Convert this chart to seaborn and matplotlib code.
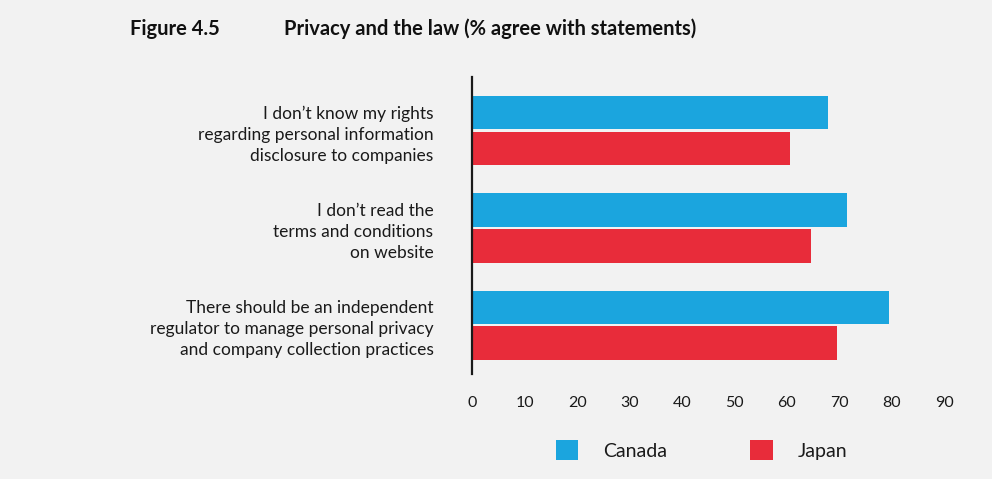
import matplotlib
matplotlib.use("Agg")
import matplotlib.pyplot as plt
import seaborn as sns
import pandas as pd

# Survey statements (as shown on the axis) and percentages agreeing
statements = [
    "I don\u2019t know my rights\nregarding personal information\ndisclosure to companies",
    "I don\u2019t read the\nterms and conditions\non website",
    "There should be an independent\nregulator to manage personal privacy\nand company collection practices",
]
countries = ["Canada", "Japan"]
canada = [67.8, 71.5, 79.5]
japan = [60.5, 64.5, 69.5]
xticks = [0, 10, 20, 30, 40, 50, 60, 70, 80, 90]

colors = {"Canada": "#1ba5de", "Japan": "#e82c3a"}
bg = "#f2f2f2"
ink = "#1a1a1a"

df = pd.DataFrame({
    "statement": statements * 2,
    "country": ["Canada"] * 3 + ["Japan"] * 3,
    "value": canada + japan,
})

sns.set_theme(style="white")
plt.rcParams["font.family"] = ["Lato", "DejaVu Sans"]

fig = plt.figure(figsize=(9.92, 4.79), dpi=100, facecolor=bg)
ax = fig.add_axes([472.3 / 992, 1 - 374 / 479, 472 / 992, 297 / 479])
ax.set_facecolor(bg)

sns.barplot(data=df, y="statement", x="value", hue="country",
            hue_order=countries, palette=colors, orient="h",
            width=0.736, gap=0.06, ax=ax, saturation=1, linewidth=0)

ax.set_xlim(0, 90)
ax.set_ylim(2.50, -0.55)
ax.set_xticks(xticks)
ax.set_xticklabels([str(t) for t in xticks], fontsize=11.5, color=ink)
ax.set_yticks(range(len(statements)))
ax.set_yticklabels(statements, fontsize=12.5, color=ink,
                   linespacing=1.38, ha="right")
ax.tick_params(axis="x", length=0, pad=16)
ax.tick_params(axis="y", length=0, pad=28)
ax.set_xlabel("")
ax.set_ylabel("")
for s in ["top", "right", "bottom"]:
    ax.spines[s].set_visible(False)
ax.spines["left"].set_color(ink)
ax.spines["left"].set_linewidth(1.6)
ax.grid(False)

handles, labels = ax.get_legend_handles_labels()
ax.legend(handles, labels, loc="center", bbox_to_anchor=(0.707, 0.0605),
          bbox_transform=fig.transFigure, ncol=2, frameon=False,
          fontsize=14, handlelength=1.17, handleheight=1.17,
          handletextpad=1.25, columnspacing=4.3, borderpad=0,
          labelcolor=ink)

fig.text(130 / 992, 1 - 29 / 479, "Figure 4.5", fontsize=14.5,
         fontweight="bold", color="#111111", va="center", ha="left")
fig.text(284 / 992, 1 - 29 / 479, "Privacy and the law (% agree with statements)",
         fontsize=14.5, fontweight="bold", color="#111111", va="center", ha="left")

fig.savefig("out.png", dpi=100, facecolor=bg)
